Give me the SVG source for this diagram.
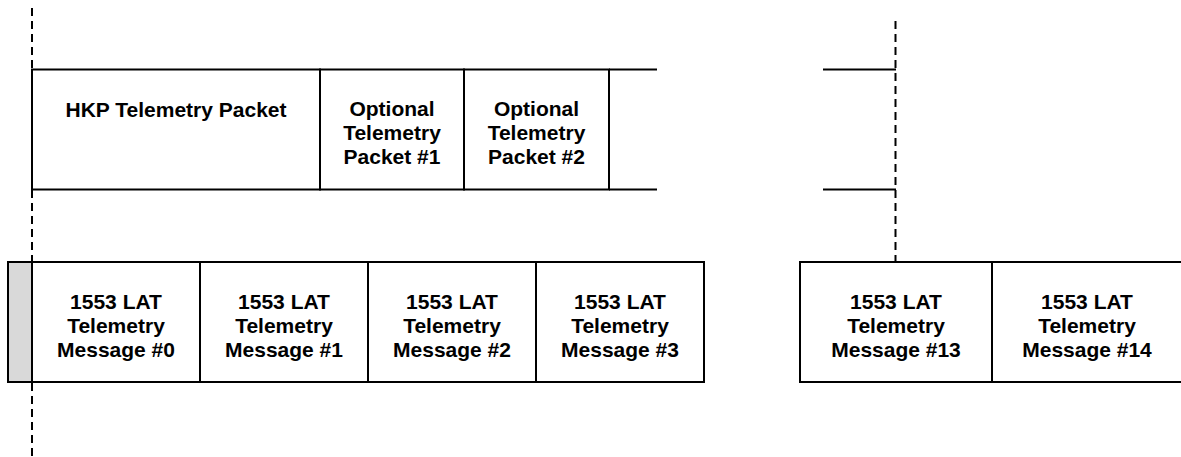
<svg xmlns="http://www.w3.org/2000/svg" width="1181" height="457" viewBox="0 0 1181 457">
<style>
.box{fill:#fff;stroke:#000;stroke-width:2}
.ln{stroke:#000;stroke-width:2;fill:none}
.dash{stroke:#000;stroke-width:2;stroke-dasharray:8 5;fill:none}
text{font-family:"Liberation Sans",Arial,sans-serif;font-weight:bold;font-size:21px;text-anchor:middle;fill:#000}
</style>
<rect width="1181" height="457" fill="#fff"/>
<g id="connectors">
<line class="dash" x1="32" y1="8" x2="32" y2="69"/>
<line class="dash" x1="32" y1="190" x2="32" y2="262"/>
<line class="dash" x1="32" y1="383" x2="32" y2="457"/>
<line class="dash" x1="895.5" y1="21" x2="895.5" y2="262"/>
<line class="ln" x1="609" y1="69.5" x2="657" y2="69.5"/>
<line class="ln" x1="609" y1="189.5" x2="657" y2="189.5"/>
<line class="ln" x1="823" y1="69.5" x2="896" y2="69.5"/>
<line class="ln" x1="823" y1="189.5" x2="896" y2="189.5"/>
</g>
<g id="hkp">
<rect class="box" x="32" y="69.5" width="288" height="120"/>
<text x="176" y="117">HKP Telemetry Packet</text>
</g>
<g id="opt1">
<rect class="box" x="320" y="69.5" width="144" height="120"/>
<text x="392" y="116">Optional</text>
<text x="392" y="140">Telemetry</text>
<text x="392" y="164">Packet #1</text>
</g>
<g id="opt2">
<rect class="box" x="464" y="69.5" width="145" height="120"/>
<text x="536.5" y="116">Optional</text>
<text x="536.5" y="140">Telemetry</text>
<text x="536.5" y="164">Packet #2</text>
</g>
<g id="gray">
<rect x="8" y="262" width="24" height="120" fill="#d9d9d9" stroke="#000" stroke-width="2"/>
</g>
<g id="msg0">
<rect class="box" x="32" y="262" width="168" height="120"/>
<text x="116" y="309">1553 LAT</text>
<text x="116" y="333">Telemetry</text>
<text x="116" y="357">Message #0</text>
</g>
<g id="msg1">
<rect class="box" x="200" y="262" width="168" height="120"/>
<text x="284" y="309">1553 LAT</text>
<text x="284" y="333">Telemetry</text>
<text x="284" y="357">Message #1</text>
</g>
<g id="msg2">
<rect class="box" x="368" y="262" width="168" height="120"/>
<text x="452" y="309">1553 LAT</text>
<text x="452" y="333">Telemetry</text>
<text x="452" y="357">Message #2</text>
</g>
<g id="msg3">
<rect class="box" x="536" y="262" width="168" height="120"/>
<text x="620" y="309">1553 LAT</text>
<text x="620" y="333">Telemetry</text>
<text x="620" y="357">Message #3</text>
</g>
<g id="msg13">
<rect class="box" x="800" y="262" width="192" height="120"/>
<text x="896" y="309">1553 LAT</text>
<text x="896" y="333">Telemetry</text>
<text x="896" y="357">Message #13</text>
</g>
<g id="msg14">
<rect class="box" x="992" y="262" width="192" height="120"/>
<text x="1087" y="309">1553 LAT</text>
<text x="1087" y="333">Telemetry</text>
<text x="1087" y="357">Message #14</text>
</g>
</svg>
